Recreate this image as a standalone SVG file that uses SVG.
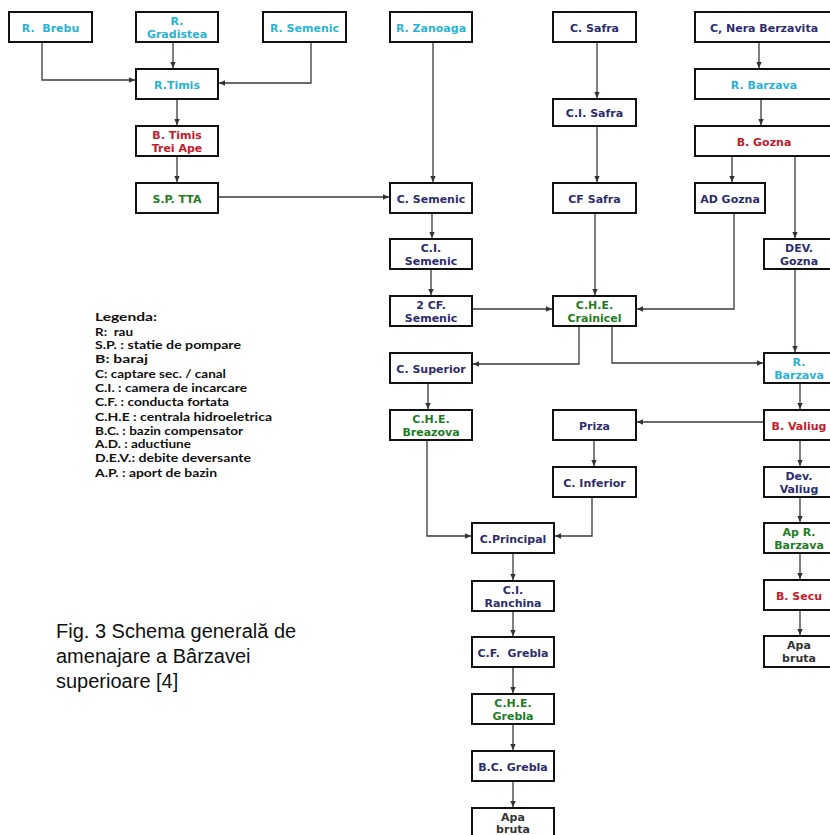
<svg xmlns="http://www.w3.org/2000/svg" width="830" height="835" viewBox="0 0 830 835">
<style>
.box{fill:#fff;stroke:#111;stroke-width:2}
.t{font-family:"DejaVu Sans",Verdana,sans-serif;font-weight:bold;font-size:11px;text-anchor:middle}
.cy{fill:#2ab3d6}
.rd{fill:#c41a2b}
.gr{fill:#1f7d1f}
.nv{fill:#2d2d6e}
.dk{fill:#333}
.ln{fill:none;stroke:#3a3a3a;stroke-width:1.3;marker-end:url(#ah)}
.lg{font-family:Lato,"Open Sans",sans-serif;font-weight:bold;font-size:11px;fill:#111}
.cap{font-family:"Liberation Sans",Arial,sans-serif;font-size:20px;fill:#111}
</style>
<defs>
<marker id="ah" markerUnits="userSpaceOnUse" markerWidth="7" markerHeight="7" refX="6" refY="3.5" orient="auto">
<path d="M0,0.8 L6,3.5 L0,6.2 z" fill="#333"/>
</marker>
</defs>
<rect width="830" height="835" fill="#fff"/>
<g id="connectors">
<path class="ln" d="M42,42 V80 H135"/>
<path class="ln" d="M173,42 V68"/>
<path class="ln" d="M311,42 V83 H219"/>
<path class="ln" d="M177,99 V125"/>
<path class="ln" d="M177,156 V182"/>
<path class="ln" d="M218,197 H389"/>
<path class="ln" d="M433,42 V182"/>
<path class="ln" d="M597,42 V98"/>
<path class="ln" d="M597,126 V182"/>
<path class="ln" d="M759,42 V68"/>
<path class="ln" d="M761,99 V125"/>
<path class="ln" d="M732,156 V182"/>
<path class="ln" d="M795,156 V238"/>
<path class="ln" d="M432,213 V238"/>
<path class="ln" d="M431,269 V295"/>
<path class="ln" d="M472,309 H552"/>
<path class="ln" d="M595,213 V295"/>
<path class="ln" d="M734,213 V309 H637"/>
<path class="ln" d="M579,326 V364 H473"/>
<path class="ln" d="M612,326 V363 H763"/>
<path class="ln" d="M795,269 V352"/>
<path class="ln" d="M428,383 V409"/>
<path class="ln" d="M800,383 V409"/>
<path class="ln" d="M764,422 H637"/>
<path class="ln" d="M594,440 V466"/>
<path class="ln" d="M427,440 V536 H471"/>
<path class="ln" d="M592,497 V536 H555"/>
<path class="ln" d="M800,440 V466"/>
<path class="ln" d="M800,497 V522"/>
<path class="ln" d="M800,553 V579"/>
<path class="ln" d="M800,610 V635"/>
<path class="ln" d="M513,553 V580"/>
<path class="ln" d="M513,611 V636"/>
<path class="ln" d="M513,667 V693"/>
<path class="ln" d="M513,724 V750"/>
<path class="ln" d="M513,781 V807"/>
</g>
<g id="n-brebu"><rect class="box" x="9" y="12" width="83" height="30"/><text class="t cy" x="50.5" y="31.5" xml:space="preserve">R.  Brebu</text></g>
<g id="n-gradistea"><rect class="box" x="136" y="12" width="82" height="30"/><text class="t cy" x="177" y="25">R.</text><text class="t cy" x="177" y="38">Gradistea</text></g>
<g id="n-rsemenic"><rect class="box" x="263" y="12" width="83" height="30"/><text class="t cy" x="304.5" y="31.5">R. Semenic</text></g>
<g id="n-timis"><rect class="box" x="136" y="69" width="82" height="30"/><text class="t cy" x="177" y="88.5">R.Timis</text></g>
<g id="n-btimis"><rect class="box" x="136" y="126" width="82" height="30"/><text class="t rd" x="177" y="139">B. Timis</text><text class="t rd" x="177" y="152">Trei Ape</text></g>
<g id="n-sptta"><rect class="box" x="136" y="183" width="82" height="30"/><text class="t gr" x="177" y="202.5">S.P. TTA</text></g>

<g id="n-zanoaga"><rect class="box" x="390" y="12" width="82" height="30"/><text class="t cy" x="431" y="31.5">R. Zanoaga</text></g>
<g id="n-csemenic"><rect class="box" x="390" y="183" width="82" height="30"/><text class="t nv" x="431" y="202.5">C. Semenic</text></g>
<g id="n-cisemenic"><rect class="box" x="390" y="239" width="82" height="30"/><text class="t nv" x="431" y="252">C.I.</text><text class="t nv" x="431" y="265">Semenic</text></g>
<g id="n-2cfsemenic"><rect class="box" x="390" y="296" width="82" height="30"/><text class="t nv" x="431" y="309">2 CF.</text><text class="t nv" x="431" y="322">Semenic</text></g>
<g id="n-csuperior"><rect class="box" x="390" y="353" width="82" height="30"/><text class="t nv" x="431" y="372.5">C. Superior</text></g>
<g id="n-breazova"><rect class="box" x="390" y="410" width="82" height="30"/><text class="t gr" x="431" y="423">C.H.E.</text><text class="t gr" x="431" y="436">Breazova</text></g>

<g id="n-csafra"><rect class="box" x="553" y="12" width="83" height="30"/><text class="t nv" x="594.5" y="31.5">C. Safra</text></g>
<g id="n-cisafra"><rect class="box" x="553" y="99" width="83" height="27"/><text class="t nv" x="594.5" y="116.5">C.I. Safra</text></g>
<g id="n-cfsafra"><rect class="box" x="553" y="183" width="83" height="30"/><text class="t nv" x="594.5" y="202.5">CF Safra</text></g>
<g id="n-crainicel"><rect class="box" x="553" y="296" width="83" height="30"/><text class="t gr" x="594.5" y="309">C.H.E.</text><text class="t gr" x="594.5" y="322">Crainicel</text></g>
<g id="n-priza"><rect class="box" x="553" y="410" width="83" height="30"/><text class="t nv" x="594.5" y="429.5">Priza</text></g>
<g id="n-cinferior"><rect class="box" x="553" y="467" width="83" height="30"/><text class="t nv" x="594.5" y="486.5">C. Inferior</text></g>

<g id="n-cprincipal"><rect class="box" x="472" y="523" width="82" height="30"/><text class="t nv" x="513" y="542.5">C.Principal</text></g>
<g id="n-ciranchina"><rect class="box" x="472" y="581" width="82" height="30"/><text class="t nv" x="513" y="594">C.I.</text><text class="t nv" x="513" y="607">Ranchina</text></g>
<g id="n-cfgrebla"><rect class="box" x="472" y="637" width="82" height="30"/><text class="t nv" x="513" y="656.5" xml:space="preserve">C.F.  Grebla</text></g>
<g id="n-chegrebla"><rect class="box" x="472" y="694" width="82" height="30"/><text class="t gr" x="513" y="707">C.H.E.</text><text class="t gr" x="513" y="720">Grebla</text></g>
<g id="n-bcgrebla"><rect class="box" x="472" y="751" width="82" height="30"/><text class="t nv" x="513" y="770.5">B.C. Grebla</text></g>
<g id="n-apabruta1"><rect class="box" x="472" y="808" width="82" height="30"/><text class="t dk" x="513" y="821">Apa</text><text class="t dk" x="513" y="833">bruta</text></g>

<g id="n-nera"><rect class="box" x="695" y="12" width="140" height="30"/><text class="t nv" x="764" y="31.5">C, Nera Berzavita</text></g>
<g id="n-rbarzava1"><rect class="box" x="695" y="69" width="140" height="30"/><text class="t cy" x="764" y="88.5">R. Barzava</text></g>
<g id="n-bgozna"><rect class="box" x="695" y="126" width="140" height="30"/><text class="t rd" x="764" y="145.5">B. Gozna</text></g>
<g id="n-adgozna"><rect class="box" x="695" y="183" width="70" height="30"/><text class="t nv" x="730" y="202.5">AD Gozna</text></g>

<g id="n-devgozna"><rect class="box" x="764" y="239" width="76" height="30"/><text class="t nv" x="799" y="252">DEV.</text><text class="t nv" x="799" y="265">Gozna</text></g>
<g id="n-rbarzava2"><rect class="box" x="764" y="353" width="76" height="30"/><text class="t cy" x="799" y="366">R.</text><text class="t cy" x="799" y="379">Barzava</text></g>
<g id="n-bvaliug"><rect class="box" x="764" y="410" width="76" height="30"/><text class="t rd" x="799" y="429.5">B. Valiug</text></g>
<g id="n-devvaliug"><rect class="box" x="764" y="467" width="76" height="30"/><text class="t nv" x="799" y="480">Dev.</text><text class="t nv" x="799" y="493">Valiug</text></g>
<g id="n-aprbarzava"><rect class="box" x="764" y="523" width="76" height="30"/><text class="t gr" x="799" y="536">Ap R.</text><text class="t gr" x="799" y="549">Barzava</text></g>
<g id="n-bsecu"><rect class="box" x="764" y="580" width="76" height="30"/><text class="t rd" x="799" y="599.5">B. Secu</text></g>
<g id="n-apabruta2"><rect class="box" x="764" y="636" width="76" height="31"/><text class="t dk" x="799" y="649">Apa</text><text class="t dk" x="799" y="662">bruta</text></g>

<g id="legend">
<text class="lg" x="95" y="321" style="font-size:12px" textLength="62" lengthAdjust="spacingAndGlyphs">Legenda:</text>
<text class="lg" x="95" y="336" xml:space="preserve" textLength="38" lengthAdjust="spacingAndGlyphs">R:  rau</text>
<text class="lg" x="95" y="349" textLength="146" lengthAdjust="spacingAndGlyphs">S.P. : statie de pompare</text>
<text class="lg" x="95" y="363" textLength="53" lengthAdjust="spacingAndGlyphs">B: baraj</text>
<text class="lg" x="95" y="378" textLength="131" lengthAdjust="spacingAndGlyphs">C: captare sec. / canal</text>
<text class="lg" x="95" y="392" textLength="152" lengthAdjust="spacingAndGlyphs">C.I. : camera de incarcare</text>
<text class="lg" x="95" y="406" textLength="134" lengthAdjust="spacingAndGlyphs">C.F. : conducta fortata</text>
<text class="lg" x="95" y="421" textLength="177" lengthAdjust="spacingAndGlyphs">C.H.E : centrala hidroeletrica</text>
<text class="lg" x="95" y="435" textLength="148" lengthAdjust="spacingAndGlyphs">B.C. : bazin compensator</text>
<text class="lg" x="95" y="448" textLength="96" lengthAdjust="spacingAndGlyphs">A.D. : aductiune</text>
<text class="lg" x="95" y="462" textLength="156" lengthAdjust="spacingAndGlyphs">D.E.V.: debite deversante</text>
<text class="lg" x="95" y="477" textLength="122" lengthAdjust="spacingAndGlyphs">A.P. : aport de bazin</text>
</g>
<g id="caption">
<text class="cap" x="56" y="638">Fig. 3 Schema generală de</text>
<text class="cap" x="56" y="663">amenajare a Bârzavei</text>
<text class="cap" x="56" y="688">superioare [4]</text>
</g>
</svg>
